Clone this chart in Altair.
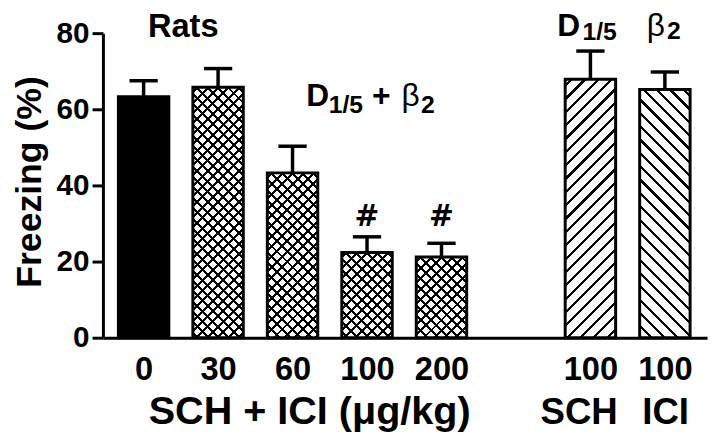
import altair as alt
import pandas as pd

# ---------------- data ----------------
doses = ["0", "30", "60", "100", "200", "100", "100"]
slots = [0, 1, 2, 3, 4, 6, 7]
freezing = [63.3, 65.8, 43.3, 22.4, 21.2, 67.9, 65.2]
sem = [4.2, 4.9, 7.0, 4.1, 3.6, 7.4, 4.6]
patterns = ["solid", "cross", "cross", "cross", "cross", "fwd", "back"]
y_ticks = [0, 20, 40, 60, 80]

# annotations (positions in data units)
left_text = ["D", "1/5", "+", "2", "D", "1/5", "2"]
left_x = [2.184, 2.485, 3.068, 3.725, 5.554, 5.893, 7.030]
left_y = [60.78, 58.96, 60.78, 58.96, 79.2, 78.2, 78.4]
left_fs = [32, 25, 32, 25, 32, 25, 25]

beta_text = ["β", "β"]
beta_x = [3.464, 6.755]
beta_y = [60.78, 79.2]

center_text = ["Rats", "SCH + ICI (μg/kg)", "SCH", "ICI"]
center_x = [0.532, 2.23, 5.848, 7.01]
center_y = [78.96, -22.6, -22.6, -22.6]
center_fs = [33, 40, 37, 37]

mark_text_ = ["#", "#"]
mark_x = [3, 4]
mark_y = [29.35, 29.35]

# ---------------- layout ----------------
Y_MAX = 80
PLOT_W, PLOT_H = 611, 308
X_DOMAIN = [-0.48, 7.5]
BAR_W = 51
FONT = "Liberation Sans"

df = pd.DataFrame({"slot": slots, "dose": doses, "mean": freezing, "sem": sem})

label_arr = [""] * 8
for s, d in zip(slots, doses):
    label_arr[s] = d
label_expr = "[" + ",".join("'%s'" % v for v in label_arr) + "][datum.value]"

XS = alt.Scale(domain=X_DOMAIN, nice=False, zero=False)
YS = alt.Scale(domain=[0, Y_MAX], nice=False, zero=True)
XAX = alt.Axis(values=slots, labelExpr=label_expr, title=None, grid=False,
               domainColor="black", domainWidth=3, ticks=False, tickSize=0,
               labelPadding=16, labelFontSize=33, labelFont=FONT,
               labelFontWeight="bold", labelColor="black", labelFlush=False,
               labelOverlap=False)
YAX = alt.Axis(values=y_ticks, title="Freezing (%)", grid=False,
               domainColor="black", domainWidth=3, tickColor="black",
               tickWidth=3, tickSize=11, labelPadding=3, labelFontSize=30,
               labelFont=FONT, labelFontWeight="bold", labelColor="black",
               titleFont=FONT, titleFontSize=36, titleFontWeight="bold",
               titleColor="black", titleX=-63, titleY=150, titleAngle=270,
               titleBaseline="alphabetic", titleAlign="center")


def xq(f):
    return alt.X(f, type="quantitative", scale=XS, axis=XAX)


def yq(f):
    return alt.Y(f, type="quantitative", scale=YS, axis=YAX)


def gradient(h, direction, period, thick, bg):
    w = BAR_W
    s = (w + h) / (w * w + h * h)
    if direction == "fwd":
        coords = dict(x1=0, y1=0, x2=round(s * w, 6), y2=round(s * h, 6))
    else:
        coords = dict(x1=1, y1=0, x2=round(1 - s * w, 6), y2=round(s * h, 6))
    total = w + h
    stops = [{"offset": 0, "color": bg}]
    c = period / 2.0
    while c - thick / 2.0 < total:
        a = round(max(0.0, (c - thick / 2.0) / total), 5)
        b = round(min(1.0, (c + thick / 2.0) / total), 5)
        stops += [{"offset": a, "color": bg}, {"offset": a, "color": "black"},
                  {"offset": b, "color": "black"}, {"offset": b, "color": bg}]
        c += period
    stops.append({"offset": 1, "color": bg})
    g = {"gradient": "linear", "stops": stops}
    g.update(coords)
    return g


layers = []
for i, s in enumerate(slots):
    h = freezing[i] * PLOT_H / Y_MAX
    base = alt.Chart(df).transform_filter(alt.datum.slot == s)
    enc = dict(x=xq("slot"), y=yq("mean"))
    pat = patterns[i]
    if pat == "solid":
        layers.append(base.mark_bar(width=BAR_W, fill="black", stroke="black",
                                    strokeWidth=3).encode(**enc))
    elif pat == "cross":
        layers.append(base.mark_bar(width=BAR_W,
                                    fill=gradient(h, "fwd", 10.5, 3.0, "white"),
                                    strokeWidth=0).encode(**enc))
        layers.append(base.mark_bar(width=BAR_W,
                                    fill=gradient(h, "back", 10.5, 3.0, "rgba(0,0,0,0)"),
                                    stroke="black", strokeWidth=3).encode(**enc))
    else:
        layers.append(base.mark_bar(width=BAR_W,
                                    fill=gradient(h, pat, 13.5, 3.2, "white"),
                                    stroke="black", strokeWidth=3).encode(**enc))

err = alt.Chart(df).transform_calculate(
    top="datum.mean + datum.sem",
    capL="datum.slot - 0.19",
    capR="datum.slot + 0.19",
)
stems = err.mark_rule(color="black", strokeWidth=3.5).encode(
    x=xq("slot"), y=yq("mean"), y2="top:Q")
caps = err.mark_rule(color="black", strokeWidth=3.5).encode(
    x=xq("capL"), x2="capR:Q", y=yq("top"))

ann_left = pd.DataFrame({"t": left_text, "x": left_x, "y": left_y, "fs": left_fs})
ann_beta = pd.DataFrame({"t": beta_text, "x": beta_x, "y": beta_y})
ann_center = pd.DataFrame({"t": center_text, "x": center_x, "y": center_y, "fs": center_fs})
ann_mark = pd.DataFrame({"t": mark_text_, "x": mark_x, "y": mark_y})

t_left = alt.Chart(ann_left).mark_text(
    align="left", baseline="alphabetic", font=FONT, fontWeight="bold",
    color="black").encode(x=xq("x"), y=yq("y"), text="t:N",
                          size=alt.Size("fs:Q", scale=None))
t_beta = alt.Chart(ann_beta).mark_text(
    align="left", baseline="alphabetic", font=FONT, fontWeight="normal",
    fontSize=32, color="black").encode(x=xq("x"), y=yq("y"), text="t:N")
t_center = alt.Chart(ann_center).mark_text(
    align="center", baseline="alphabetic", font=FONT, fontWeight="bold",
    color="black").encode(x=xq("x"), y=yq("y"), text="t:N",
                          size=alt.Size("fs:Q", scale=None))
t_mark = alt.Chart(ann_mark).mark_text(
    align="center", baseline="alphabetic", font="DejaVu Sans", fontWeight="bold",
    fontSize=30, color="black").encode(x=xq("x"), y=yq("y"), text="t:N")

chart = alt.layer(*layers, stems, caps, t_left, t_beta, t_center, t_mark).properties(
    width=PLOT_W, height=PLOT_H,
    autosize=alt.AutoSizeParams(type="none"),
    padding={"left": 96, "top": 23, "right": 5, "bottom": 100},
    background="white",
).configure_view(stroke=None)

chart.save("out.html", embed_options={"renderer": "svg", "actions": False})
